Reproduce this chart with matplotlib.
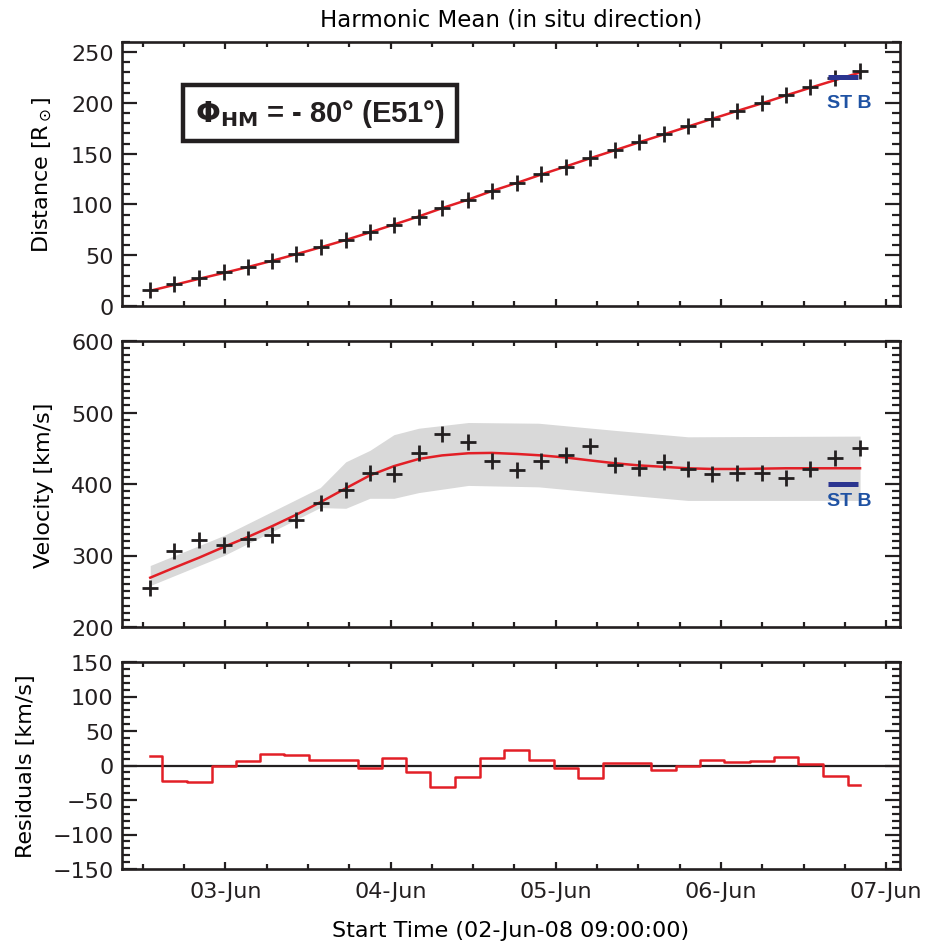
import numpy as np
import matplotlib
matplotlib.use("Agg")
import matplotlib.pyplot as plt
from matplotlib.ticker import FixedLocator, MultipleLocator

# ---------------- data (hours since 02-Jun-08 09:00) ----------------
t_hours = [4.1, 7.6, 11.2, 14.8, 18.3, 21.8, 25.3, 28.9, 32.5, 36.0,
           39.5, 43.1, 46.5, 50.3, 53.7, 57.4, 60.9, 64.5, 68.0, 71.6,
           75.1, 78.7, 82.2, 85.7, 89.3, 93.0, 96.4, 99.9, 103.6, 107.2]

distance = [15.5, 21.4, 27.3, 33.0, 38.5, 44.4, 51.0, 57.9, 64.8, 72.4,
            80.0, 87.9, 96.4, 104.3, 112.9, 120.8, 130.0, 137.2, 145.4, 153.7,
            161.2, 169.4, 177.0, 184.2, 192.4, 200.0, 207.9, 215.5, 224.4, 231.3]

distance_fit = [15.0, 20.8, 26.8, 32.6, 38.4, 44.5, 51.0, 57.9, 65.0, 72.5,
                80.2, 88.2, 96.4, 104.8, 113.2, 121.3, 129.5, 137.5, 145.5, 153.4,
                161.2, 169.0, 176.7, 184.3, 192.0, 199.7, 207.3, 214.8, 222.5, 230.0]

velocity = [255, 306, 321, 314, 323, 328, 349, 374, 391, 416,
            414, 443, 470, 459, 432, 420, 432, 441, 453, 426,
            422, 431, 421, 414, 416, 416, 409, 421, 437, 451]

velocity_fit = [269, 283, 297, 312, 326, 341, 357, 375, 394, 412,
                425, 435, 440, 443, 443.5, 442, 440, 437, 433, 429,
                426, 424, 422, 421, 421, 421.5, 422, 422, 422, 422]

band_t = [4.1, 14.8, 28.8, 32.5, 36.0, 39.5, 43.1, 50.3, 60.5, 71.6, 82.2, 107.2]
band_upper = [286, 328, 395, 431, 447, 469, 478, 486, 485, 475, 466, 467]
band_lower = [258, 300, 367, 366, 380, 380, 388, 398, 396, 386, 377, 377]

residuals = [13.4, -22.6, -23.5, -1.0, 6.2, 17.3, 14.9, 7.7, 8.6, -4.3,
             11.0, -9.6, -31.2, -16.8, 10.6, 22.1, 7.7, -4.3, -18.7, 2.9,
             2.9, -7.2, 0.0, 7.7, 4.8, 6.2, 12.5, 2.4, -15.4, -28.8]

stb_t = [102.5, 106.9]
stb_distance = 226
stb_velocity = 400

date_ticks = [15, 39, 63, 87, 111]
date_labels = ["03-Jun", "04-Jun", "05-Jun", "06-Jun", "07-Jun"]

# ---------------- styling ----------------
plt.rcParams['font.family'] = ['DejaVu Sans']
FS = 16
RED = '#e21f26'
NAVY = '#2b3590'
BLUE = '#1f52a3'
GRAY = '#d9d9d9'
INK = '#231f20'

fig = plt.figure(figsize=(9.32, 9.45), dpi=100)
L, W = 122 / 932, (900 - 122) / 932
def ax_at(top_px, bot_px):
    return fig.add_axes([L, 1 - bot_px / 945, W, (bot_px - top_px) / 945])

ax1 = ax_at(43, 307)
ax2 = ax_at(342, 628)
ax3 = ax_at(663, 870)

minor_x = list(np.arange(3, 113, 6))
for ax in (ax1, ax2, ax3):
    ax.set_xlim(0, 113)
    ax.xaxis.set_major_locator(FixedLocator(date_ticks))
    ax.xaxis.set_minor_locator(FixedLocator(minor_x))
    ax.tick_params(axis='both', which='both', direction='in', top=True, right=True,
                   width=1.6, labelsize=FS, colors=INK)
    ax.tick_params(axis='x', which='major', length=5, pad=9)
    ax.tick_params(axis='x', which='minor', length=3.5)
    ax.tick_params(axis='y', which='major', length=11, pad=6)
    ax.tick_params(axis='y', which='minor', length=6)
    for s in ax.spines.values():
        s.set_linewidth(1.9)
        s.set_color(INK)
    ax.yaxis.set_minor_locator(MultipleLocator(10))

# ---- top panel: distance ----
ax1.set_ylim(0, 260)
ax1.yaxis.set_major_locator(MultipleLocator(50))
ax1.plot(t_hours, distance_fit, color=RED, lw=1.8, zorder=2)
ax1.plot(t_hours, distance, ls='none', marker='+', ms=12, mew=2.0, color=INK, zorder=3)
ax1.plot(stb_t, [stb_distance, stb_distance], color=NAVY, lw=3.6, solid_capstyle='butt', zorder=4)
ax1.text(sum(stb_t) / 2 + 0.9, stb_distance - 17, "ST B", color=BLUE, fontsize=14,
         fontweight='bold', family='Liberation Sans', ha='center', va='top')
ax1.set_xticklabels([])
ax1.set_ylabel(r"Distance [R$_\odot$]", fontsize=FS, labelpad=12)
ax1.set_title("Harmonic Mean (in situ direction)", fontsize=16.5, pad=12)
ax1.text(0.2545, 0.731, r"$\mathbf{\Phi}_{\mathbf{HM}}$ = - 80° (E51°)", transform=ax1.transAxes,
         fontsize=21, fontweight='bold', family='Liberation Sans', ha='center', va='center',
         color=INK,
         bbox=dict(boxstyle='square,pad=0.42', fc='white', ec=INK, lw=3.2))

# ---- middle panel: velocity ----
ax2.set_ylim(200, 600)
ax2.yaxis.set_major_locator(MultipleLocator(100))
ax2.fill_between(band_t, band_lower, band_upper, color=GRAY, lw=0, zorder=1)
ax2.plot(t_hours, velocity_fit, color=RED, lw=1.8, zorder=2)
ax2.plot(t_hours, velocity, ls='none', marker='+', ms=12, mew=2.0, color=INK, zorder=3)
ax2.plot(stb_t, [stb_velocity, stb_velocity], color=NAVY, lw=3.6, solid_capstyle='butt', zorder=4)
ax2.text(sum(stb_t) / 2 + 0.9, stb_velocity - 11, "ST B", color=BLUE, fontsize=14,
         fontweight='bold', family='Liberation Sans', ha='center', va='top')
ax2.set_xticklabels([])
ax2.set_ylabel("Velocity [km/s]", fontsize=FS, labelpad=12)

# ---- bottom panel: residuals ----
ax3.set_ylim(-150, 150)
ax3.yaxis.set_major_locator(MultipleLocator(50))
ax3.axhline(0, color=INK, lw=1.6, zorder=1)
ax3.step(t_hours, residuals, where='mid', color=RED, lw=1.8, zorder=2)
ax3.set_xticklabels(date_labels)
ax3.set_yticks([-150, -100, -50, 0, 50, 100, 150])
ax3.set_yticklabels(["\u2212150", "\u2212100", "\u221250", "0", "50", "100", "150"])
ax3.set_ylabel("Residuals [km/s]", fontsize=FS, labelpad=12)
ax3.set_xlabel("Start Time (02-Jun-08 09:00:00)", fontsize=FS, labelpad=13)

fig.savefig("out.png", dpi=100)
